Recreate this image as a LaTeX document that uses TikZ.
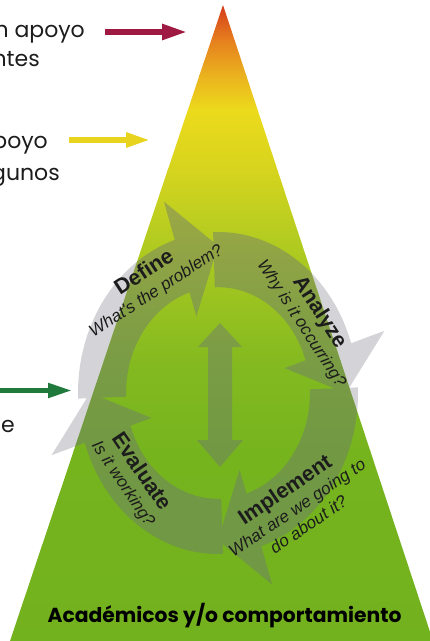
\documentclass[tikz,border=0pt]{standalone}
\usepackage{fontspec}
\setmainfont{Liberation Sans}
\newfontfamily\gothic{Poppins}
\newfontfamily\arialf{Liberation Sans}
\usetikzlibrary{arrows.meta,calc}

\definecolor{maroonA}{HTML}{9E1A42}
\definecolor{yellowA}{HTML}{E8D41E}
\definecolor{greenA}{HTML}{1F7A3C}
\definecolor{lightgreyA}{HTML}{D4D4D8}
\definecolor{arrowgrey}{HTML}{6E7873}
\definecolor{txt}{HTML}{1C1C1C}
\definecolor{pc0}{HTML}{D43A1C}
\definecolor{pc1}{HTML}{E6801E}
\definecolor{pc2}{HTML}{EAB21E}
\definecolor{pc3}{HTML}{ECDA1C}
\definecolor{pc4}{HTML}{D6D41E}
\definecolor{pc5}{HTML}{BCCE20}
\definecolor{pc6}{HTML}{9EC420}
\definecolor{pc7}{HTML}{84BA20}
\definecolor{pc8}{HTML}{76B41E}
\definecolor{pc9}{HTML}{72B21E}

\newcommand\cycarrow[1]{({#1+92}:92pt) arc[start angle={#1+92}, end angle={#1+18}, radius=92pt] -- ({#1+18}:70pt) -- (#1:128pt) -- ({#1+18}:175pt) -- ({#1+18}:140pt) arc[start angle={#1+18}, end angle={#1+92}, radius=140pt] -- cycle}
\newcommand\pyrpath{(223,-5) -- (7,-650) -- (436,-650) -- cycle}

\tikzset{
  lefttxt/.style={font=\gothic\fontsize{22}{24}\selectfont, text=txt, inner sep=0pt, anchor=base east},
  cyclbl/.style={align=center, text=txt, inner sep=0pt, font=\arialf\fontsize{17}{20.5}\selectfont},
  pointer/.style={line width=5.5pt},
}

\begin{document}
\begin{tikzpicture}[x=1pt,y=1pt]
\useasboundingbox (0,0) rectangle (430,-641);
\clip (0,0) rectangle (430,-641);

% cycle arrows, light grey (visible outside the pyramid)
\begin{scope}[shift={(218,-393)},yscale=1.15]
  \fill[lightgreyA] \cycarrow{90} \cycarrow{0} \cycarrow{-90} \cycarrow{180};
\end{scope}

% pyramid with gradient
\begin{scope}
  \clip \pyrpath;
  \shade[top color=pc0,bottom color=pc1] (0,-4) rectangle (430,-40.5);
  \shade[top color=pc1,bottom color=pc2] (0,-40) rectangle (430,-75.5);
  \shade[top color=pc2,bottom color=pc3] (0,-75) rectangle (430,-110.5);
  \shade[top color=pc3,bottom color=pc4] (0,-110) rectangle (430,-170.5);
  \shade[top color=pc4,bottom color=pc5] (0,-170) rectangle (430,-220.5);
  \shade[top color=pc5,bottom color=pc6] (0,-220) rectangle (430,-290.5);
  \shade[top color=pc6,bottom color=pc7] (0,-290) rectangle (430,-360.5);
  \shade[top color=pc7,bottom color=pc8] (0,-360) rectangle (430,-450.5);
  \shade[top color=pc8,bottom color=pc9] (0,-450) rectangle (430,-652);
  % cycle arrows over the pyramid
  \begin{scope}[shift={(218,-393)},yscale=1.15]
    \fill[arrowgrey,opacity=.45] \cycarrow{90} \cycarrow{0} \cycarrow{-90} \cycarrow{180};
  \end{scope}
  \fill[arrowgrey,opacity=.45] (220,-323) -- (242,-347) -- (232,-347) -- (232,-440) -- (243,-440)
     -- (220,-467) -- (197,-440) -- (208,-440) -- (208,-347) -- (198,-347) -- cycle;
\end{scope}

% cycle labels
\node[cyclbl, rotate=33] (define) at (150,-281.5)
  {{\fontsize{21.5}{20.5}\selectfont\bfseries Define}\\ \itshape What's the problem?};
\node[cyclbl, rotate=-57] (analyze) at (311,-317.5)
  {{\fontsize{21.5}{20.5}\selectfont\bfseries Analyze}\\ \itshape Why is it occurring?};
\node[cyclbl, rotate=-56] (evaluate) at (132.5,-477.5)
  {{\fontsize{21.5}{20.5}\selectfont\bfseries Evaluate}\\ \itshape Is it working?};
\node[cyclbl, rotate=34] (implement) at (296,-506)
  {{\fontsize{21.5}{20.5}\selectfont\bfseries Implement}\\ \itshape What are we going to\\ \itshape do about it?};

% left texts
\node[lefttxt] (t1) at (85,-37) {n apoyo};
\node[lefttxt] (t2) at (40,-66.7) {ntes};
\node[lefttxt] (t3) at (48,-148) {poyo};
\node[lefttxt] (t4) at (60,-180) {gunos};
\node[lefttxt] (t5) at (15,-432) {e};

% pointers
\coordinate (m1) at (105,-32); \coordinate (m2) at (187,-32);
\coordinate (y1) at (69,-140); \coordinate (y2) at (150,-140);
\coordinate (g1) at (-5,-390.5); \coordinate (g2) at (72,-390.5);
\draw[pointer, maroonA, -{Triangle[length=25pt,width=15pt]}] (m1) -- (m2);
\draw[pointer, yellowA, -{Triangle[length=24pt,width=14pt]}] (y1) -- (y2);
\draw[pointer, greenA, line width=5pt, -{Triangle[length=24pt,width=14pt]}] (g1) -- (g2);

% base label
\node[font=\gothic\bfseries\fontsize{20.3}{21}\selectfont, text=black, inner sep=0pt, anchor=base] (base) at (224.5,-622) {Académicos y/o comportamiento};
\end{tikzpicture}
\end{document}
